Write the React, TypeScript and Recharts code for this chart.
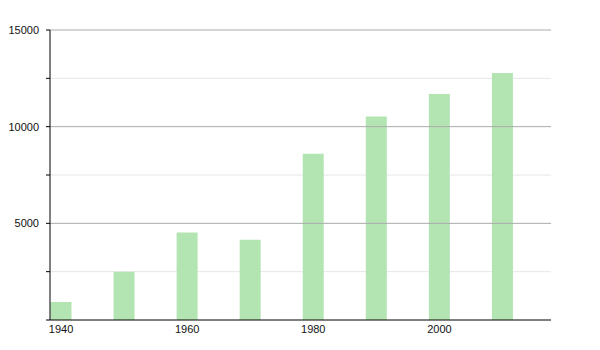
import { BarChart, Bar, XAxis, YAxis, CartesianGrid, ReferenceLine } from 'recharts';

// population by census year
const years = [1940, 1950, 1960, 1970, 1980, 1990, 2000, 2010];
const population = [930, 2500, 4520, 4150, 8600, 10520, 11690, 12770];
const yearTicks = [1940, 1960, 1980, 2000];
const valueTicks = [0, 2500, 5000, 7500, 10000, 12500, 15000];
const majorLines = [5000, 10000, 15000];

const data = years.map((year, i) => ({ year, population: population[i] }));

const font = { fontFamily: '"Liberation Sans", Arial, sans-serif', fontSize: 11, fill: '#111' };

export default function App() {
  return (
    <div style={{ position: 'absolute', left: 0, top: 0, background: '#fff' }}>
      <BarChart width={600} height={350} data={data} margin={{ top: 30, right: 49, bottom: 0, left: 0 }}>
        <CartesianGrid vertical={false} stroke="#e6e6e6" horizontalValues={[2500, 7500, 12500]} />
        {majorLines.map((v) => (
          <ReferenceLine key={v} y={v} stroke="#aaaaaa" />
        ))}
        <XAxis
          dataKey="year"
          type="number"
          domain={[1938.25, 2017.7]}
          ticks={yearTicks}
          allowDataOverflow
          height={30}
          tickLine={false}
          tickMargin={-1}
          stroke="#000"
          tick={font}
        />
        <YAxis
          domain={[0, 15000]}
          ticks={valueTicks}
          width={50}
          tickSize={4}
          tickMargin={7}
          stroke="#000"
          tick={font}
          tickFormatter={(v: number) => (v > 0 && v % 5000 === 0 ? String(v) : '')}
        />
        <Bar dataKey="population" fill="#b3e5b3" barSize={21} isAnimationActive={false} />
      </BarChart>
    </div>
  );
}
